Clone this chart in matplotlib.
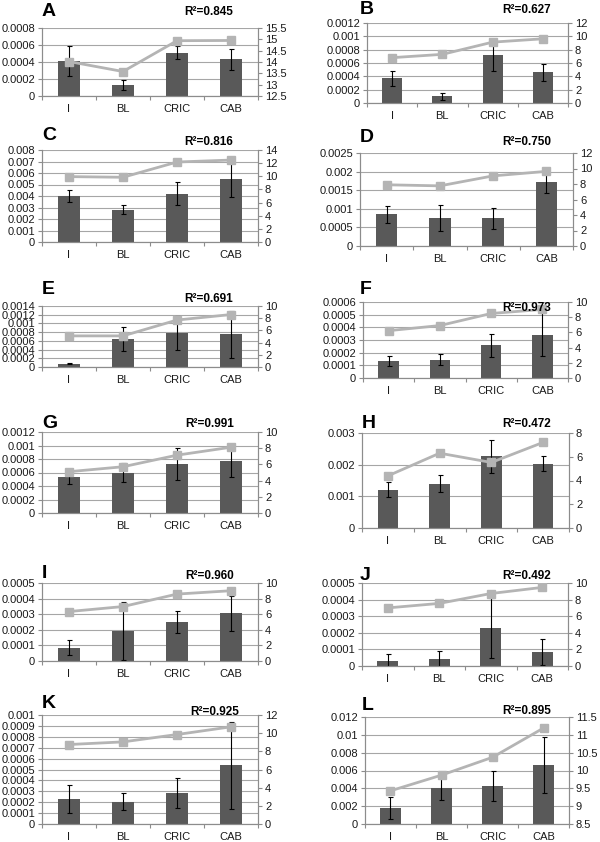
import numpy as np
import matplotlib.pyplot as plt

plt.rcParams['font.family'] = ['Liberation Sans', 'DejaVu Sans']

groups = ['I', 'BL', 'CRIC', 'CAB']
letters = ['A', 'B', 'C', 'D', 'E', 'F', 'G', 'H', 'I', 'J', 'K', 'L']
r2_values = ['0.845', '0.627', '0.816', '0.750', '0.691', '0.973',
             '0.991', '0.472', '0.960', '0.492', '0.925', '0.895']

# bar height (left axis), error bar half-width, grey line (right axis)
A_bars = [0.00041, 0.00013, 0.00051, 0.00043]
A_err = [0.00018, 0.00006, 0.00008, 0.00012]
A_line = [14.02, 13.58, 14.94, 14.95]

B_bars = [0.00037, 0.00010, 0.00072, 0.00046]
B_err = [0.00011, 0.00005, 0.00024, 0.00013]
B_line = [6.8, 7.3, 9.13, 9.63]

C_bars = [0.00397, 0.0028, 0.0042, 0.0055]
C_err = [0.00052, 0.00038, 0.00098, 0.0016]
C_line = [9.95, 9.85, 12.17, 12.47]

D_bars = [0.00085, 0.00075, 0.00074, 0.00171]
D_err = [0.00022, 0.00035, 0.00029, 0.00028]
D_line = [7.9, 7.76, 9.05, 9.63]

E_bars = [0.00008, 0.00064, 0.00079, 0.00075]
E_err = [0.00002, 0.00027, 0.00039, 0.00054]
E_line = [5.1, 5.1, 7.7, 8.6]

F_bars = [0.000135, 0.000145, 0.00026, 0.00034]
F_err = [0.00004, 0.000043, 0.000091, 0.00017]
F_line = [6.23, 6.9, 8.49, 9.02]

G_bars = [0.00054, 0.0006, 0.000725, 0.000765]
G_err = [0.00011, 0.00014, 0.00024, 0.00023]
G_line = [5.1, 5.71, 7.14, 8.12]

H_bars = [0.00121, 0.0014, 0.00226, 0.00203]
H_err = [0.00024, 0.00026, 0.00053, 0.00024]
H_line = [4.39, 6.3, 5.52, 7.21]

I_bars = [0.000086, 0.00019, 0.00025, 0.000306]
I_err = [0.000046, 0.000186, 0.00007, 0.000112]
I_line = [6.34, 6.98, 8.58, 9.01]

J_bars = [0.000033, 0.000043, 0.000228, 0.000082]
J_err = [0.00004, 0.00005, 0.00018, 0.000078]
J_line = [7.0, 7.54, 8.73, 9.47]

K_bars = [0.000228, 0.000206, 0.000283, 0.000538]
K_err = [0.00013, 0.000077, 0.00014, 0.0004]
K_line = [8.75, 9.04, 9.85, 10.7]

L_bars = [0.00178, 0.00401, 0.00427, 0.00662]
L_err = [0.00126, 0.0013, 0.0017, 0.0031]
L_line = [9.43, 9.87, 10.37, 11.19]

bars_all = [A_bars, B_bars, C_bars, D_bars, E_bars, F_bars,
            G_bars, H_bars, I_bars, J_bars, K_bars, L_bars]
err_all = [A_err, B_err, C_err, D_err, E_err, F_err,
           G_err, H_err, I_err, J_err, K_err, L_err]
line_all = [A_line, B_line, C_line, D_line, E_line, F_line,
            G_line, H_line, I_line, J_line, K_line, L_line]

# axis ranges (min, max, step) for left and right axes
left_axes = [(0, 0.0008, 0.0002), (0, 0.0012, 0.0002), (0, 0.008, 0.001),
             (0, 0.0025, 0.0005), (0, 0.0014, 0.0002), (0, 0.0006, 0.0001),
             (0, 0.0012, 0.0002), (0, 0.003, 0.001), (0, 0.0005, 0.0001),
             (0, 0.0005, 0.0001), (0, 0.001, 0.0001), (0, 0.012, 0.002)]
right_axes = [(12.5, 15.5, 0.5), (0, 12, 2), (0, 14, 2), (0, 12, 2),
              (0, 10, 2), (0, 10, 2), (0, 10, 2), (0, 8, 2),
              (0, 10, 2), (0, 10, 2), (0, 12, 2), (8.5, 11.5, 0.5)]

# plot boxes in pixels: left, top, right, bottom
boxes = [(42, 28, 258, 96), (367, 23, 568, 103),
         (42, 150, 258, 242), (360, 153, 573, 246),
         (42, 306, 258, 367), (363, 302, 568, 378),
         (42, 432, 258, 513), (362, 433, 569, 528),
         (42, 583, 258, 661), (362, 583, 568, 666),
         (42, 715, 258, 824), (365, 717, 569, 824)]
letter_pos = [(42, 12), (360, 10), (42, 135), (360, 137), (42, 290), (360, 290),
              (42, 424), (362, 423), (42, 574), (360, 575), (42, 704), (362, 705)]
r2_pos = [(209, 12), (527, 10), (209, 142), (527, 142), (209, 299), (527, 308),
          (210, 424), (527, 424), (210, 576), (527, 576), (215, 712), (527, 711)]

W, H = 600, 842
BAR = '#595959'
LINE = '#b4b4b4'
GRID = '#a6a6a6'
AXIS = '#8c8c8c'
TXT = '#1a1a1a'


def fmt(v):
    s = f"{round(v, 6):.4f}".rstrip('0').rstrip('.')
    return s if s else '0'


def make_ticks(lo, hi, step):
    n = int(round((hi - lo) / step))
    return [lo + i * step for i in range(n + 1)]


fig = plt.figure(figsize=(W / 100, H / 100), dpi=100)
x = np.arange(len(groups))

for i in range(12):
    l, t, r, b = boxes[i]
    ax = fig.add_axes([l / W, 1 - b / H, (r - l) / W, (b - t) / H])
    ax.bar(x, bars_all[i], width=0.4, color=BAR, zorder=2)
    ax.errorbar(x, bars_all[i], yerr=err_all[i], fmt='none', ecolor='black',
                elinewidth=0.8, capsize=1.8, capthick=0.8, zorder=3)

    lo, hi, step = left_axes[i]
    lt = make_ticks(lo, hi, step)
    ax.set_ylim(lo, hi)
    ax.set_yticks(lt)
    ax.set_yticklabels([fmt(v) for v in lt])
    ax.yaxis.grid(True, color=GRID, lw=0.8)
    ax.set_axisbelow(True)

    ax.set_xlim(-0.5, 3.5)
    ax.set_xticks(x)
    ax.set_xticklabels(groups)
    ax.set_xticks(np.arange(-0.5, 4, 1), minor=True)
    ax.tick_params(axis='x', which='major', length=0, pad=6, labelsize=8,
                   labelcolor=TXT)
    ax.tick_params(axis='x', which='minor', length=3, color=AXIS, width=0.8)
    ax.tick_params(axis='y', length=3, color=AXIS, width=0.8, pad=2,
                   labelsize=8, labelcolor=TXT)
    ax.spines['top'].set_visible(False)
    for s in ['left', 'bottom', 'right']:
        ax.spines[s].set_color(AXIS)
        ax.spines[s].set_linewidth(0.8)

    ax2 = ax.twinx()
    ax2.plot(x, line_all[i], color=LINE, lw=2.0, marker='s', ms=6,
             mfc=LINE, mec=LINE, zorder=4)
    lo, hi, step = right_axes[i]
    rt = make_ticks(lo, hi, step)
    ax2.set_ylim(lo, hi)
    ax2.set_yticks(rt)
    ax2.set_yticklabels([fmt(v) for v in rt])
    ax2.tick_params(axis='y', length=3, color=AXIS, width=0.8, pad=2,
                    labelsize=8, labelcolor=TXT)
    ax2.spines['top'].set_visible(False)
    for s in ['left', 'bottom', 'right']:
        ax2.spines[s].set_color(AXIS)
        ax2.spines[s].set_linewidth(0.8)

    lx, ly = letter_pos[i]
    fig.text(lx / W, 1 - ly / H, letters[i], fontsize=14, fontweight='bold',
             ha='left', va='center')
    rx, ry = r2_pos[i]
    fig.text(rx / W, 1 - ry / H, 'R\u00b2=' + r2_values[i], fontsize=8.5,
             fontweight='bold', ha='center', va='center')

fig.savefig('out.png', dpi=100)
